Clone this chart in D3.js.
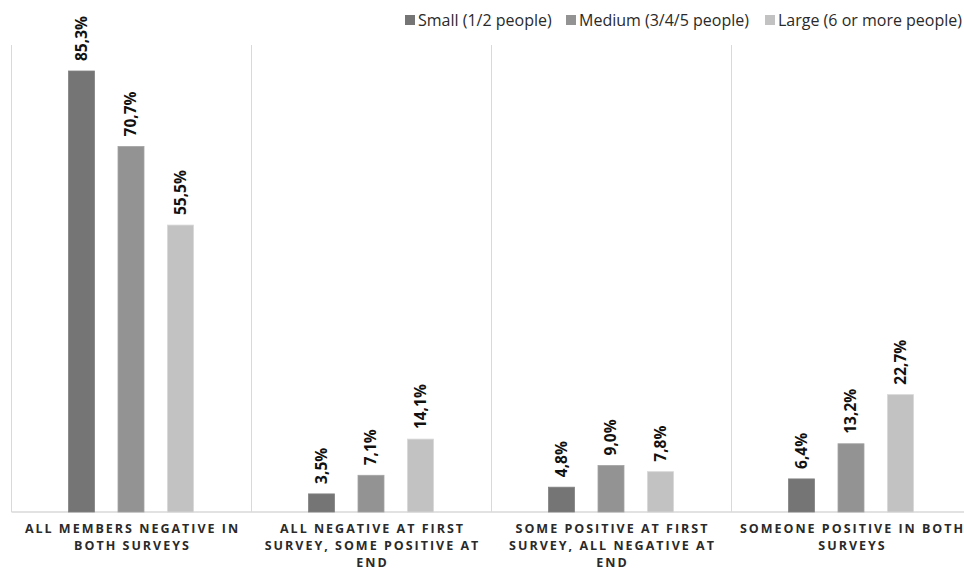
<!DOCTYPE html>
<html><head><meta charset="utf-8">
<script src="https://cdn.jsdelivr.net/npm/d3@7"></script>
<style>body{margin:0;background:#fff}svg{display:block}</style>
</head><body>
<svg id="c" width="964" height="571"></svg>
<script>
const categories = [
  ["ALL MEMBERS NEGATIVE IN","BOTH SURVEYS"],
  ["ALL NEGATIVE AT FIRST","SURVEY, SOME POSITIVE AT","END"],
  ["SOME POSITIVE AT FIRST","SURVEY, ALL NEGATIVE AT","END"],
  ["SOMEONE POSITIVE IN BOTH","SURVEYS"]
];
const seriesNames = ["Small (1/2 people)","Medium (3/4/5 people)","Large (6 or more people)"];
const small = [85.3, 3.5, 4.8, 6.4];
const medium = [70.7, 7.1, 9.0, 13.2];
const large = [55.5, 14.1, 7.8, 22.7];
const colors = ["#757575","#939393","#c2c2c2"];

const series = [small, medium, large];
const svg = d3.select("#c");
const left = 11.5, bandW = 240, baseY = 512, topY = 45;
const x0 = d3.scaleBand().domain(d3.range(categories.length)).range([left, left + bandW*categories.length]).paddingInner(0).paddingOuter(0);
const x1 = d3.scaleBand().domain(d3.range(series.length)).range([57, 57+26+49.5*2]).paddingInner(23.5/49.5).paddingOuter(0);
const y = d3.scaleLinear().domain([0, 85.3]).range([baseY, 71]);

// separators
const seps = d3.range(categories.length+1).map(i => left + i*bandW);
svg.selectAll("line.sep").data(seps).enter().append("line")
  .attr("x1", d=>d).attr("x2", d=>d).attr("y1", topY).attr("y2", baseY)
  .attr("stroke", "#d9d9d9").attr("stroke-width", 1);
svg.append("line").attr("x1", left).attr("x2", 964).attr("y1", baseY).attr("y2", baseY)
  .attr("stroke", "#d9d9d9").attr("stroke-width", 1.5);

const fmt = v => d3.format(".1f")(v).replace(".", ",") + "%";

const g = svg.selectAll("g.cat").data(categories).enter().append("g")
  .attr("transform", (d,i)=>`translate(${x0(i)},0)`);
series.forEach((s, si) => {
  g.append("rect")
    .attr("x", x1(si)).attr("width", x1.bandwidth())
    .attr("y", (d,i)=>y(s[i])).attr("height", (d,i)=>baseY - y(s[i]))
    .attr("fill", colors[si]).attr("stroke", d3.color(colors[si]).brighter(0.3)).attr("stroke-width", 0.8);
  g.append("text")
    .attr("transform", (d,i)=>`translate(${x1(si)+x1.bandwidth()/2},${y(s[i])-10}) rotate(-90)`)
    .attr("dy", "0.35em")
    .attr("text-anchor", "start")
    .attr("font-family", "'Open Sans', sans-serif").attr("font-weight", 700).attr("font-size", 15.5)
    .attr("fill", "#111")
    .text((d,i)=>fmt(s[i]));
});

// category labels
g.each(function(lines, i){
  const t = d3.select(this).append("text")
    .attr("text-anchor", "middle")
    .attr("font-family", "'Open Sans', sans-serif").attr("font-weight", 700).attr("font-size", 12.5)
    .attr("letter-spacing", "2px").attr("fill", "#2a2a2a");
  lines.forEach((l, k) => t.append("tspan").attr("x", bandW/2 + 1).attr("y", 533 + k*17).text(l));
});

// legend
const legX = [405, 566, 765];
const leg = svg.selectAll("g.leg").data(seriesNames).enter().append("g")
  .attr("transform", (d,i)=>`translate(${legX[i]},20)`);
leg.append("rect").attr("x", 0).attr("y", -5).attr("width", 10).attr("height", 10).attr("fill", (d,i)=>colors[i]);
leg.append("text").attr("x", 13).attr("dy", "0.35em")
  .attr("font-family", "'Open Sans', sans-serif").attr("font-size", 16).attr("fill", "#2a2a2a")
  .text(d=>d);
</script>
</body></html>
